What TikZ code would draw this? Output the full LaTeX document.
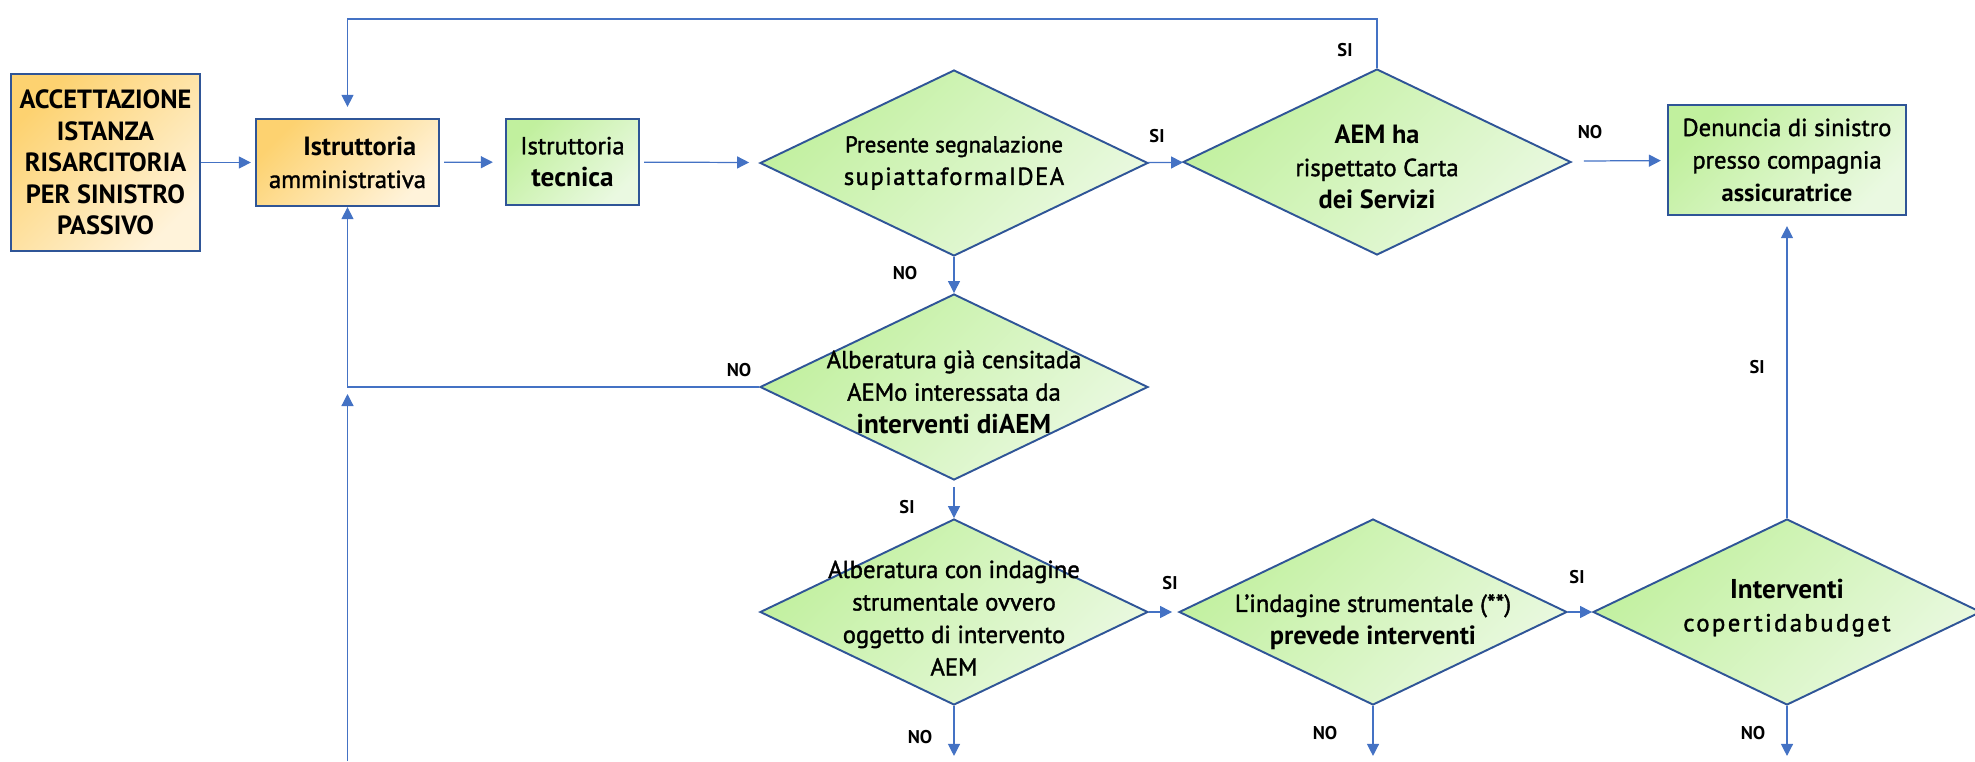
\documentclass[tikz,border=0pt]{standalone}
\usepackage{fontspec}
\setmainfont{PT Sans}[UprightFeatures={FakeBold=1.5}]
\usetikzlibrary{shapes.geometric,arrows.meta}

\definecolor{colBordo}{RGB}{47,85,151}
\definecolor{colFreccia}{RGB}{68,114,196}
\definecolor{verdeA}{RGB}{193,240,158}
\definecolor{verdeB}{RGB}{234,249,225}
\definecolor{aranA}{RGB}{253,210,112}
\definecolor{aranB}{RGB}{255,243,218}

\tikzset{
  box/.style={draw=colBordo, line width=1.3pt, rectangle, align=center,
    top color=verdeA, bottom color=verdeB, shading angle=45,
    font=\fontsize{14}{18.5}\selectfont},
  boxor/.style={box, top color=aranA, bottom color=aranB, shading angle=45},
  dec/.style={draw=colBordo, line width=1.1pt, diamond, inner sep=0pt,
    minimum width=7.76cm, minimum height=3.72cm,
    top color=verdeA, bottom color=verdeB, shading angle=45},
  dtesto/.style={align=center, font=\fontsize{14}{18.5}\selectfont},
  freccia/.style={draw=colFreccia, line width=0.7pt, -{Triangle[length=0.24cm,width=0.24cm]}},
  esito/.style={font=\fontsize{10.5}{12}\selectfont\bfseries},
}

\begin{document}
\begin{tikzpicture}[x=0.02cm,y=-0.02cm]
\useasboundingbox (0,0) rectangle (1975,761);

% blocchi rettangolari
\node[boxor, minimum width=3.78cm, minimum height=3.54cm, font=\fontsize{15}{18}\selectfont\bfseries] (acc) at (105.5,162.5)
  {ACCETTAZIONE\\ ISTANZA\\ RISARCITORIA\\ PER SINISTRO\\ PASSIVO};
\node[boxor, minimum width=3.66cm, minimum height=1.74cm] (amm) at (347.5,162.5)
  {\hspace*{1em}{\bfseries\fontsize{15}{18}\selectfont Istruttoria}\\ amministrativa};
\node[box, minimum width=2.66cm, minimum height=1.72cm] (tec) at (572.5,162)
  {Istruttoria\\ {\bfseries\fontsize{15.5}{19}\selectfont tecnica}};
\node[box, minimum width=4.76cm, minimum height=2.2cm] (den) at (1787,160)
  {Denuncia di sinistro\\ presso compagnia\\ {\bfseries assicuratrice}};

% rombi di decisione
\node[dec] (d1) at (954,163) {};
\node[dtesto] (d1t) at (954,163) {{\fontsize{13}{18}\selectfont Presente segnalazione}\\ {\addfontfeature{LetterSpace=6}supiattaformaIDEA}};
\node[dec] (d2) at (1377,162) {};
\node[dtesto] (d2t) at (1377,167) {{\bfseries\fontsize{15}{18}\selectfont AEM ha}\\ rispettato Carta\\ {\bfseries\fontsize{15}{18}\selectfont dei Servizi}};
\node[dec] (d3) at (954,387) {};
\node[dtesto] (d3t) at (954,392) {Alberatura già censitada\\ AEMo interessata da\\ {\fontsize{15.5}{18}\selectfont\bfseries interventi diAEM}};
\node[dec] (d4) at (954,612) {};
\node[dtesto] (d4t) at (954,618) {Alberatura con indagine\\ strumentale ovvero\\ oggetto di intervento\\ AEM};
\node[dec] (d5) at (1373,612) {};
\node[dtesto] (d5t) at (1373,622) {L’indagine strumentale (**)\\ {\bfseries\fontsize{15}{18}\selectfont prevede interventi}};
\node[dec] (d6) at (1787,612) {};
\node[dtesto] (d6t) at (1787,608) {{\bfseries\fontsize{15.5}{19}\selectfont Interventi}\\ {\addfontfeature{LetterSpace=10}copertidabudget}};

% collegamenti
\draw[freccia, shorten >=0.08cm] (acc) -- (amm);
\draw[freccia, shorten <=0.08cm, shorten >=0.24cm] (amm) -- (tec);
\draw[freccia, shorten <=0.08cm, shorten >=0.22cm] (tec) -- (d1);
\draw[freccia] (d1) -- (d2);
\draw[freccia, shorten <=0.28cm, shorten >=0.12cm] (d2) -- (den);
\draw[freccia, shorten >=0.22cm] (d2.north) -- ++(0,-49) -| (amm.north);
\draw[freccia] (d1.south) -- (d3.north);
\draw[freccia] (d3.west) -| (amm.south);
\coordinate (basso) at (347.5,761);
\draw[freccia] (basso) -- ++(0,-367);
\draw[freccia, shorten <=0.12cm] (d3.south) -- (d4.north);
\draw[freccia, shorten >=0.12cm] (d4.east) -- (d5.west);
\draw[freccia] (d5.east) -- (d6.west);
\draw[freccia, shorten >=0.2cm] (d6.north) -- (den.south);
\draw[freccia] (d4.south) -- ++(0,50);
\draw[freccia] (d5.south) -- ++(0,50);
\draw[freccia] (d6.south) -- ++(0,50);

% etichette SI / NO
\node[esito] (si1) at (1157,136) {SI};
\node[esito] (si2) at (1345,50) {SI};
\node[esito] (no1) at (1590,132) {NO};
\node[esito] (no2) at (905,273) {NO};
\node[esito] (no3) at (739,370) {NO};
\node[esito] (si3) at (907,507) {SI};
\node[esito] (si4) at (1170,583) {SI};
\node[esito] (si5) at (1577,577) {SI};
\node[esito] (si6) at (1757,367) {SI};
\node[esito] (no4) at (920,737) {NO};
\node[esito] (no5) at (1325,733) {NO};
\node[esito] (no6) at (1753,733) {NO};
\end{tikzpicture}
\end{document}
